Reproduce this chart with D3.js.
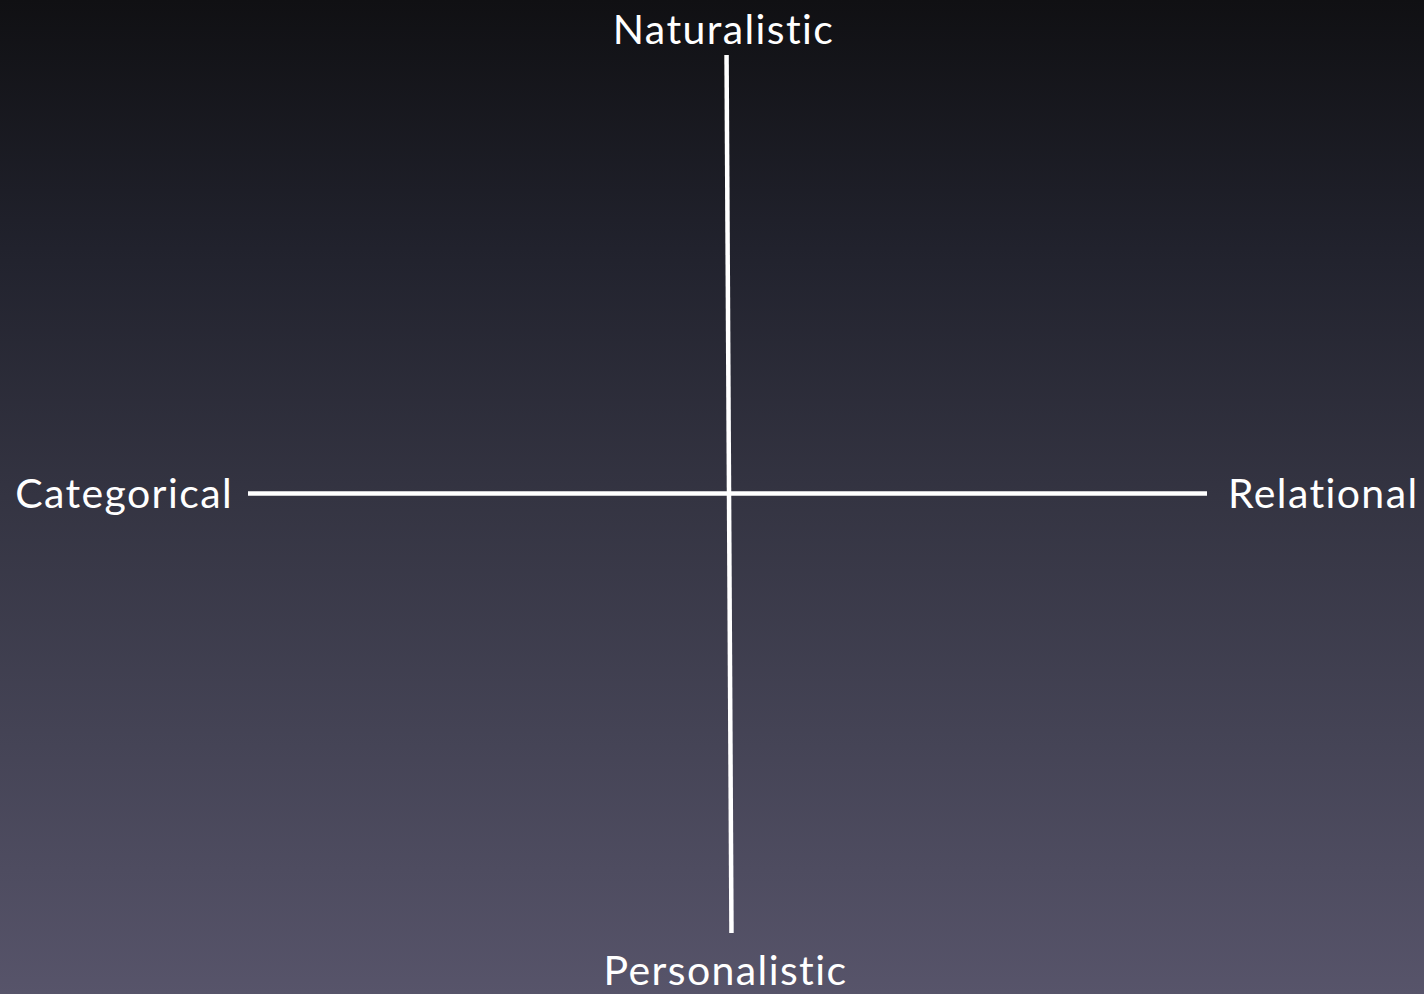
<!DOCTYPE html>
<html>
<head>
<meta charset="utf-8">
<script src="https://cdn.jsdelivr.net/npm/d3@7"></script>
<style>
	html, body { margin: 0; padding: 0; background: #111114; }
	svg { display: block; }
</style>
</head>
<body>
<script>
const w = 1424;
const h = 994;

// axis ends, in a -1..1 space
const horizontalAxis = [{x: -1, y: 0.001}, {x: 1, y: 0.001}];
const verticalAxis = [{x: -0.002, y: 1}, {x: 0.0083, y: -1}];

const poleNames = ['Naturalistic', 'Personalistic', 'Categorical', 'Relational'];
const poleSpots = [{x: -0.002, y: 1}, {x: 0.0083, y: -1}, {x: -1, y: 0}, {x: 1, y: 0}];
const poleSides = ['top', 'bottom', 'left', 'right'];

const x = d3.scaleLinear().domain([-1, 1]).range([248, 1207]);
const y = d3.scaleLinear().domain([-1, 1]).range([933, 55]);

const svg = d3.select('body').append('svg')
	.attr('width', w)
	.attr('height', h);

const grad = svg.append('defs').append('linearGradient')
	.attr('id', 'bg')
	.attr('x1', 0).attr('y1', 0)
	.attr('x2', 0).attr('y2', 1);

grad.selectAll('stop')
	.data([['0%', '#101013'], ['25%', '#21222d'], ['50%', '#343442'], ['75%', '#454456'], ['100%', '#57546a']])
	.enter()
	.append('stop')
	.attr('offset', d => d[0])
	.attr('stop-color', d => d[1]);

svg.append('rect')
	.attr('width', w)
	.attr('height', h)
	.attr('fill', 'url(#bg)');

const line = d3.line().x(d => x(d.x)).y(d => y(d.y));

svg.selectAll('path.axis')
	.data([horizontalAxis, verticalAxis])
	.enter()
	.append('path')
	.attr('class', 'axis')
	.attr('d', line)
	.attr('stroke', '#ffffff')
	.attr('stroke-width', 4.5)
	.attr('fill', 'none');

const offsets = {
	top: {dx: -3, dy: -11, anchor: 'middle'},
	bottom: {dx: -6, dy: 52, anchor: 'middle'},
	left: {dx: -15, dy: 14, anchor: 'end'},
	right: {dx: 21, dy: 14, anchor: 'start'}
};

svg.selectAll('text.pole')
	.data(poleNames)
	.enter()
	.append('text')
	.attr('class', 'pole')
	.attr('x', (d, i) => x(poleSpots[i].x) + offsets[poleSides[i]].dx)
	.attr('y', (d, i) => y(poleSpots[i].y) + offsets[poleSides[i]].dy)
	.attr('text-anchor', (d, i) => offsets[poleSides[i]].anchor)
	.attr('fill', '#ffffff')
	.style('font-family', 'Lato, "Open Sans", sans-serif')
	.style('font-size', '41px')
	.style('letter-spacing', '1.4px')
	.style('font-variant-ligatures', 'none')
	.style('font-feature-settings', '"liga" 0, "clig" 0')
	.text(d => d);
</script>
</body>
</html>
